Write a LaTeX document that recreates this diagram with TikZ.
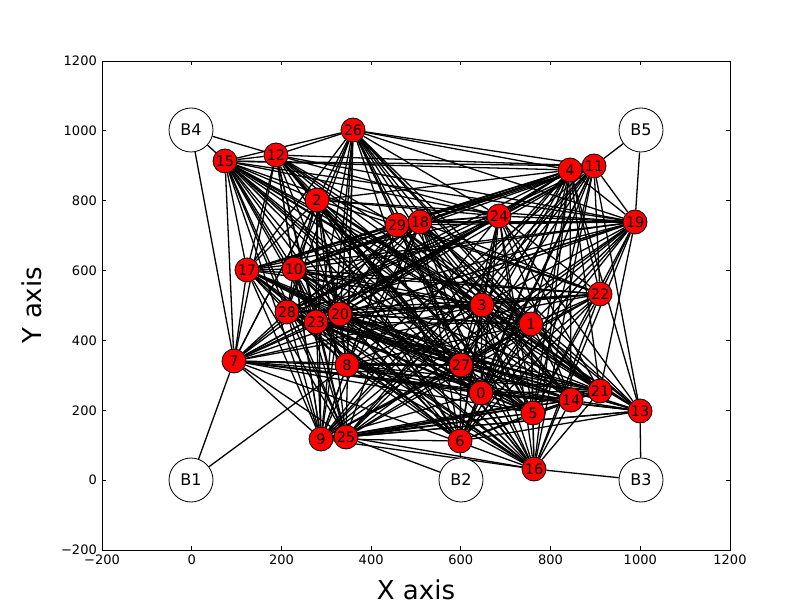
\documentclass[tikz,border=0pt]{standalone}
\usepackage{fontspec}
\setmainfont{DejaVu Sans}
\pgfdeclarelayer{bg}
\pgfsetlayers{bg,main}
\tikzset{
 rnode/.style={circle, draw=black, fill=red, minimum size=24pt, inner sep=0pt, line width=0.8pt, font=\fontsize{14.5}{14.5}\selectfont},
 bnode/.style={circle, draw=black, fill=white, minimum size=44pt, inner sep=0pt, line width=0.8pt, font=\fontsize{16}{16}\selectfont},
 edge/.style={line width=1.3pt, black},
 tickmark/.style={line width=0.8pt},
 ticklbl/.style={font=\fontsize{13}{13}\selectfont, inner sep=0pt},
 axlbl/.style={font=\fontsize{26}{26}\selectfont, inner sep=0pt}
}
\begin{document}
\begin{tikzpicture}[x=1pt,y=-1pt]
\useasboundingbox (0,0) rectangle (812,612);
% axes box
\draw[line width=0.8pt] (102,61) rectangle (730,550);
\foreach \k/\l in {0/−200,1/0,2/200,3/400,4/600,5/800,6/1000,7/1200}{
  \pgfmathsetmacro{\px}{102+\k*89.714}
  \pgfmathsetmacro{\py}{550-\k*69.857}
  \draw[tickmark] (\px,550) -- (\px,546);
  \draw[tickmark] (\px,61) -- (\px,65);
  \draw[tickmark] (102,\py) -- (106,\py);
  \draw[tickmark] (730,\py) -- (726,\py);
  \node[ticklbl, anchor=north] (xl\k) at (\px,555) {\l};
  \node[ticklbl, anchor=east] (yl\k) at (97,\py) {\l};
}
\node[axlbl] (xlab) at (416,590) {X axis};
\node[axlbl, rotate=90] (ylab) at (32,305) {Y axis};
% nodes
\foreach \n/\x/\y in {0/481/393,1/531/324,2/317/200,3/482/305,4/570/170,5/533/413,6/460/441,7/234/361,8/347/365,9/321/439,10/294/269,11/594/166,12/276/155,13/640/411,14/571/400,15/225/161,16/534/469,17/247/270,18/420/222,19/635/222,20/340/314,21/600/391,22/600/294,23/316/322,24/499/216,25/346/437,26/353/130,27/461/365,28/287/312,29/397/225}{
  \node[rnode] (n\n) at (\x,\y) {\n};
}
\node[bnode] (B1) at (191,480) {B1};
\node[bnode] (B2) at (461,480) {B2};
\node[bnode] (B3) at (641,480) {B3};
\node[bnode] (B4) at (191,130) {B4};
\node[bnode] (B5) at (641,130) {B5};
\begin{pgfonlayer}{bg}
\pgfmathsetseed{4242}
\foreach \i in {0,...,28}{
  \pgfmathtruncatemacro{\s}{\i+1}
  \foreach \j in {\s,...,29}{
    \pgfmathtruncatemacro{\r}{rnd<0.85}
    \ifnum\r=1 \draw[edge] (n\i) -- (n\j);\fi
  }
}
\foreach \a/\b in {B4/n15,B4/n12,B4/n7,B5/n11,B5/n19,B1/n7,B1/n8,B2/n25,B2/n6,B3/n13,B3/n16}{
  \draw[edge] (\a) -- (\b);
}
\end{pgfonlayer}
\end{tikzpicture}
\end{document}
